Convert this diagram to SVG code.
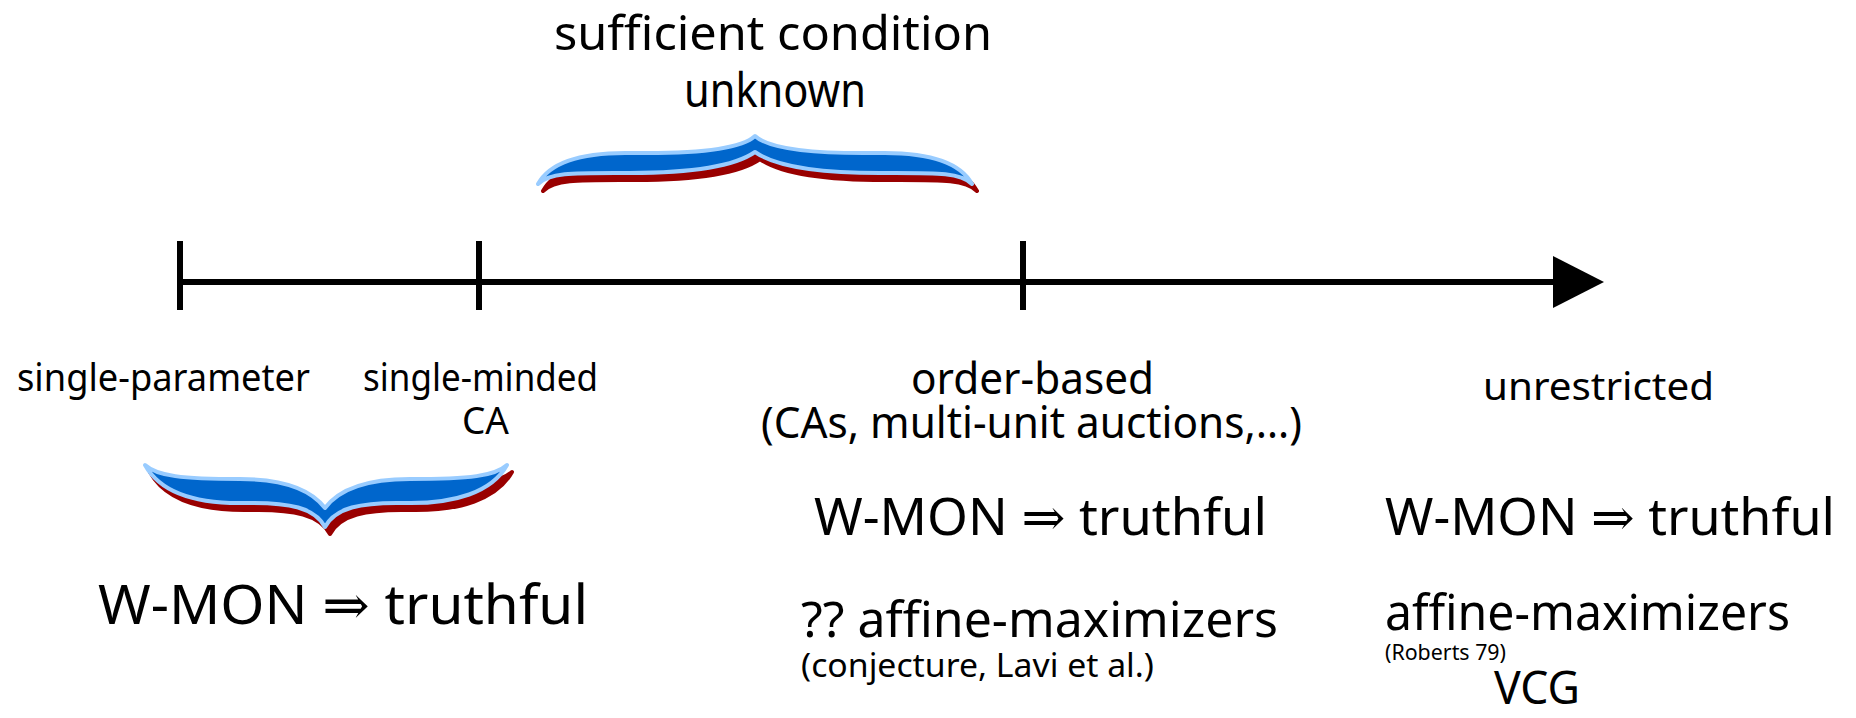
<svg xmlns="http://www.w3.org/2000/svg" width="1856" height="718" viewBox="0 0 1856 718">
<style>
text{font-family:"Noto Sans","Open Sans",sans-serif;fill:#000}
.arr{font-family:"DejaVu Serif",serif}
.axis{stroke:#000;stroke-width:6;fill:none}
.shadow{fill:#990000;stroke:#990000;stroke-width:4;stroke-linejoin:round}
.brace{fill:#0066CC;stroke:#99CCFF;stroke-width:4;stroke-linejoin:round}
</style>
<defs>
<path id="braceUp" d="M538,184 C550,162 582,152 632,153 C700,154 742,148 755,136 C768,148 810,154 878,153 C928,152 960,162 972,184 C960,172 935,173 880,173 C815,173 775,166 755,152 C735,166 695,173 630,173 C575,173 550,172 538,184 Z"/>
<path id="braceDown" d="M145,465 C160,492 195,504 245,503 C290,502 315,508 325,527 C335,508 360,502 405,503 C455,504 492,492 507,465 C495,476 470,479 410,479 C360,479 337,492 325,508 C313,492 290,479 240,479 C182,479 157,476 145,465 Z"/>
</defs>
<g id="connectors">
<line class="axis" x1="180" y1="282" x2="1556" y2="282"/>
<polygon points="1553,256 1604,282 1553,308" fill="#000"/>
<line class="axis" x1="180" y1="241" x2="180" y2="310"/>
<line class="axis" x1="479" y1="241" x2="479" y2="310"/>
<line class="axis" x1="1023" y1="241" x2="1023" y2="310"/>
</g>
<g id="brace-top">
<use href="#braceUp" class="shadow" transform="translate(5,7)"/>
<use href="#braceUp" class="brace"/>
</g>
<g id="brace-left">
<use href="#braceDown" class="shadow" transform="translate(5,7)"/>
<use href="#braceDown" class="brace"/>
</g>
<g id="title">
<text x="554" y="50" font-size="48" textLength="438" lengthAdjust="spacingAndGlyphs">sufficient condition</text>
<text x="684" y="107" font-size="48" textLength="182" lengthAdjust="spacingAndGlyphs">unknown</text>
</g>
<g id="single-parameter">
<text x="17" y="391" font-size="38" textLength="293" lengthAdjust="spacingAndGlyphs">single-parameter</text>
</g>
<g id="single-minded">
<text x="363" y="391" font-size="38" textLength="235" lengthAdjust="spacingAndGlyphs">single-minded</text>
<text x="462" y="434" font-size="38" textLength="47" lengthAdjust="spacingAndGlyphs">CA</text>
</g>
<g id="left-result">
<text x="98" y="624" font-size="55" textLength="490" lengthAdjust="spacingAndGlyphs">W-MON <tspan class="arr">⇒</tspan> truthful</text>
</g>
<g id="order-based">
<text x="911" y="394" font-size="43" textLength="243" lengthAdjust="spacingAndGlyphs">order-based</text>
<text x="761" y="438" font-size="43" textLength="541" lengthAdjust="spacingAndGlyphs">(CAs, multi-unit auctions,…)</text>
<text x="814" y="535" font-size="51" textLength="453" lengthAdjust="spacingAndGlyphs">W-MON <tspan class="arr">⇒</tspan> truthful</text>
<text x="801" y="637" font-size="50" textLength="477" lengthAdjust="spacingAndGlyphs">?? affine-maximizers</text>
<text x="801" y="677" font-size="33" textLength="353" lengthAdjust="spacingAndGlyphs">(conjecture, Lavi et al.)</text>
</g>
<g id="unrestricted">
<text x="1483" y="400" font-size="39" textLength="231" lengthAdjust="spacingAndGlyphs">unrestricted</text>
<text x="1385" y="535" font-size="51" textLength="450" lengthAdjust="spacingAndGlyphs">W-MON <tspan class="arr">⇒</tspan> truthful</text>
<text x="1385" y="630" font-size="49" textLength="405" lengthAdjust="spacingAndGlyphs">affine-maximizers</text>
<text x="1385" y="660" font-size="21" textLength="121" lengthAdjust="spacingAndGlyphs">(Roberts 79)</text>
<text x="1494" y="704" font-size="46" textLength="86" lengthAdjust="spacingAndGlyphs">VCG</text>
</g>
</svg>
